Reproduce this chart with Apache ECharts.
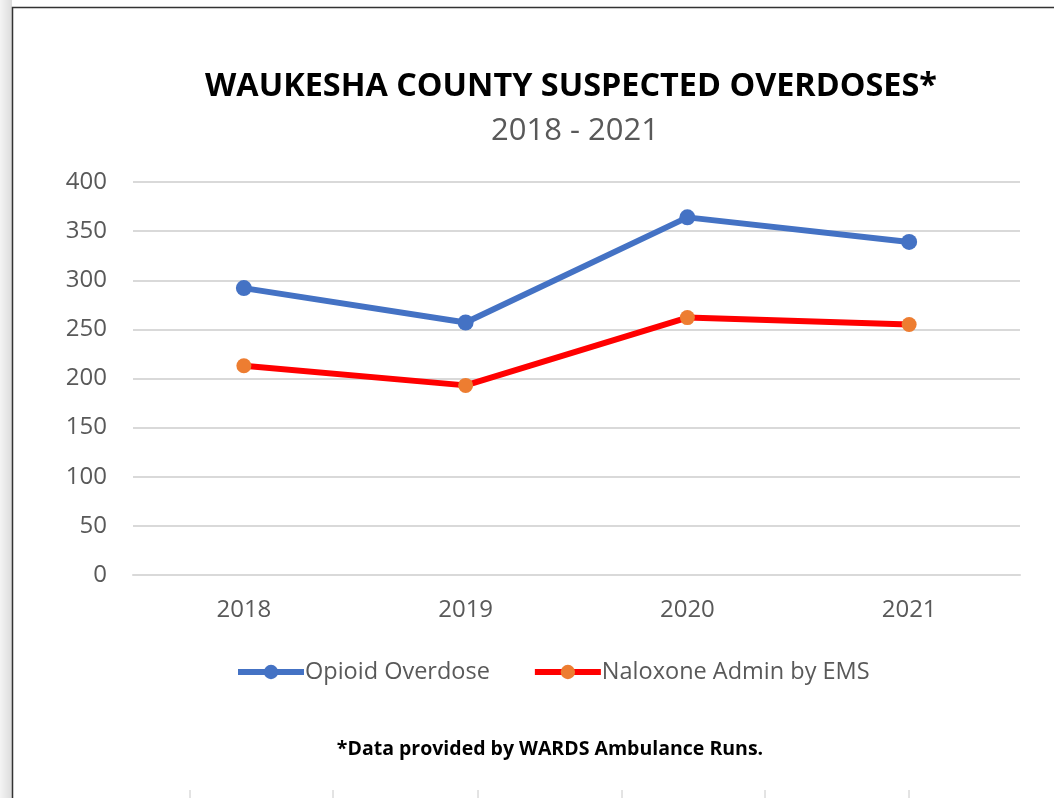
<!DOCTYPE html>
<html>
<head>
<meta charset="utf-8">
<script src="https://cdn.jsdelivr.net/npm/echarts@6/dist/echarts.min.js"></script>
<style>
  html, body { margin: 0; padding: 0; background: #fff; }
  #root { width: 1054px; height: 798px; }
</style>
</head>
<body>
<div id="root"></div>
<script>
const years = ['2018', '2019', '2020', '2021'];
const opioidOverdose = [292, 257, 364, 339];
const naloxoneAdmin = [213, 193, 262, 255];

const font = '"Open Sans", Lato, sans-serif';

let myChart = echarts.init(document.getElementById('root'));

let option = {
  backgroundColor: '#fff',
  textStyle: { fontFamily: font },
  title: [
    {
      text: 'WAUKESHA COUNTY SUSPECTED OVERDOSES*',
      left: 566,
      top: 66,
      textAlign: 'center',
      textStyle: { fontSize: 32.4, fontWeight: 'bold', color: '#000', fontFamily: font }
    },
    {
      text: '2018 - 2021',
      left: 570,
      top: 111,
      textAlign: 'center',
      textStyle: { fontSize: 31, fontWeight: 'normal', color: '#595959', fontFamily: font }
    },
    {
      text: '*Data provided by WARDS Ambulance Runs.',
      left: 545,
      top: 734,
      textAlign: 'center',
      textStyle: { fontSize: 19.5, fontWeight: 'bold', color: '#000', fontFamily: font }
    }
  ],
  legend: {
    top: 655,
    left: 230,
    itemWidth: 66,
    itemHeight: 18,
    itemGap: 42,
    textStyle: { fontSize: 23.5, color: '#595959', fontFamily: font, padding: [0, 0, 0, -4] },
    data: [
      { name: 'Opioid Overdose', lineStyle: { width: 6 } },
      { name: 'Naloxone Admin by EMS', lineStyle: { width: 6 } }
    ]
  },
  grid: { left: 133, right: 34, top: 182, bottom: 223 },
  xAxis: {
    type: 'category',
    data: years,
    boundaryGap: true,
    axisLine: { lineStyle: { color: '#d9d9d9', width: 2 } },
    axisTick: { show: false },
    axisLabel: { fontSize: 24, color: '#595959', margin: 23, fontFamily: font }
  },
  yAxis: {
    type: 'value',
    min: 0,
    max: 400,
    interval: 50,
    axisLine: { show: false },
    axisTick: { show: false },
    axisLabel: { fontSize: 24, color: '#595959', margin: 26, fontFamily: font },
    splitLine: { lineStyle: { color: '#d9d9d9', width: 2 } }
  },
  series: [
    {
      name: 'Opioid Overdose',
      type: 'line',
      data: opioidOverdose,
      symbol: 'circle',
      symbolSize: 16,
      lineStyle: { color: '#4472C4', width: 6 },
      itemStyle: { color: '#4472C4' },
      animation: false
    },
    {
      name: 'Naloxone Admin by EMS',
      type: 'line',
      data: naloxoneAdmin,
      symbol: 'circle',
      symbolSize: 15,
      lineStyle: { color: '#FF0000', width: 6 },
      itemStyle: { color: '#ED7D31' },
      animation: false
    }
  ],
  graphic: [
    // shadow strip at the left of the chart frame
    {
      type: 'rect',
      shape: { x: 0, y: 0, width: 12, height: 798 },
      style: {
        fill: new echarts.graphic.LinearGradient(0, 0, 1, 0, [
          { offset: 0, color: '#f4f4f4' },
          { offset: 1, color: '#dcdcdc' }
        ])
      },
      silent: true
    },
    // chart frame
    {
      type: 'polyline',
      shape: { points: [[12.5, 798], [12.5, 7.5], [1054, 7.5]] },
      style: { stroke: '#333', lineWidth: 1.5, fill: null },
      silent: true
    },
    // sheet cell borders peeking at the bottom
    ...[190, 333, 478, 622, 765, 909].map(x => ({
      type: 'line',
      shape: { x1: x, y1: 790, x2: x, y2: 798 },
      style: { stroke: '#c8c8c8', lineWidth: 1 },
      silent: true
    }))
  ]
};

myChart.setOption(option);
</script>
</body>
</html>
